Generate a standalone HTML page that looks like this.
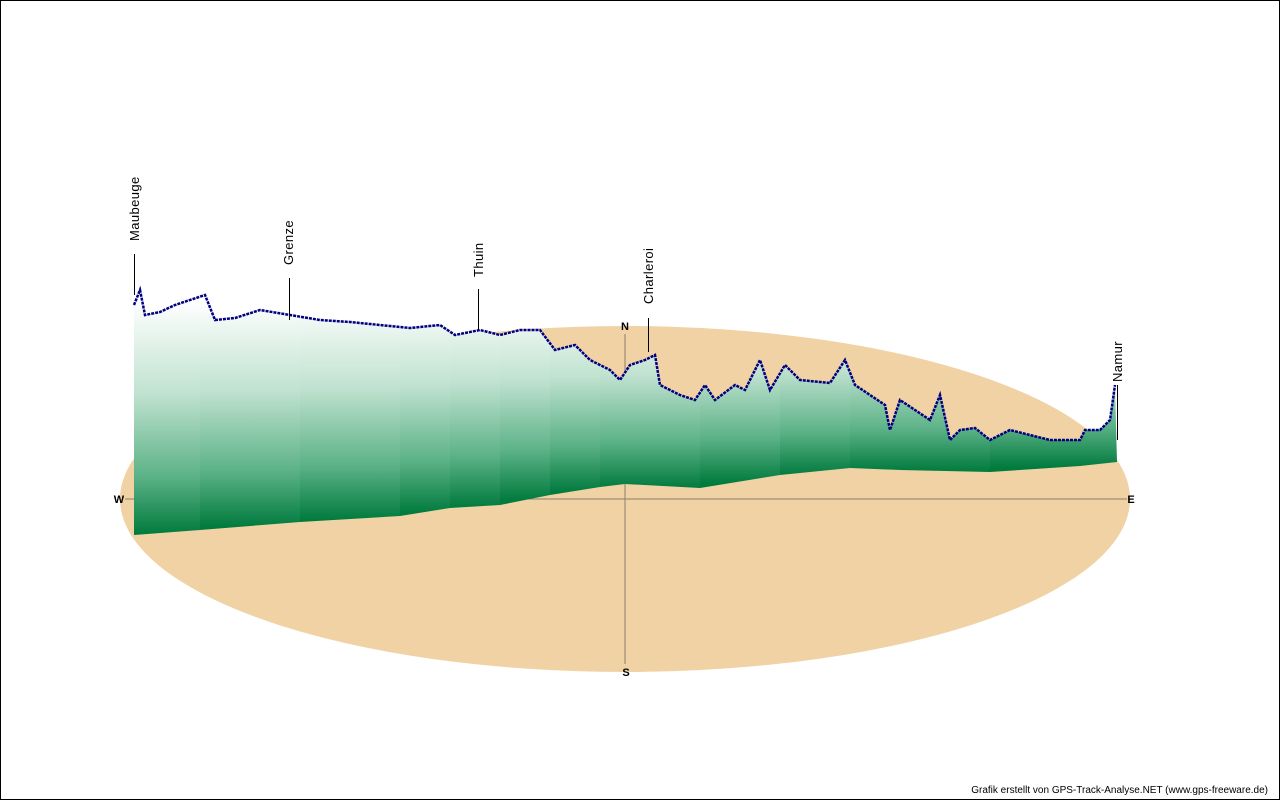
<!DOCTYPE html>
<html><head><meta charset="utf-8"><style>
html,body{margin:0;padding:0;background:#fff}
svg{display:block}
text{font-family:"Liberation Sans",sans-serif}
</style></head><body>
<svg width="1280" height="800" viewBox="0 0 1280 800">
<defs>
<clipPath id="c"><path d="M134,305 L140,290 L145,315 L160,312 L175,305 L190,300 L205,295 L215,320 L235,318 L260,310 L290,315 L320,320 L350,322 L380,325 L410,328 L440,325 L455,335 L480,330 L500,335 L520,330 L540,330 L555,350 L575,345 L590,360 L610,370 L620,380 L630,365 L645,360 L655,355 L660,385 L680,395 L695,400 L705,385 L715,400 L735,385 L745,390 L760,360 L770,390 L785,365 L800,380 L830,383 L845,360 L855,385 L870,395 L885,405 L890,430 L900,400 L915,410 L930,420 L940,395 L950,440 L960,430 L975,428 L990,440 L1010,430 L1030,435 L1050,440 L1080,440 L1085,430 L1100,430 L1110,420 L1115,385 L1117,462 L1080,466 L1050,468 L990,472 L900,470 L850,468 L780,475 L700,488 L625,484 L600,487 L550,495 L500,505 L450,508 L400,516 L300,522 L200,530 L134,535 Z"/></clipPath>
<linearGradient id="g1" gradientUnits="userSpaceOnUse" x1="0" y1="535" x2="0" y2="300"><stop offset="0" stop-color="#007a3d"/><stop offset="0.25" stop-color="#5cb287"/><stop offset="0.6" stop-color="#c0e2d0"/><stop offset="1" stop-color="#fff"/></linearGradient>
<linearGradient id="g2" href="#g1" y1="528" y2="300"/>
<linearGradient id="g3" href="#g1" y1="521" y2="300"/>
<linearGradient id="g4" href="#g1" y1="514" y2="300"/>
<linearGradient id="g5" href="#g1" y1="508" y2="300"/>
<linearGradient id="g6" href="#g1" y1="501" y2="300"/>
<linearGradient id="g7" href="#g1" y1="493" y2="300"/>
<linearGradient id="g8" href="#g1" y1="489" y2="300"/>
<linearGradient id="g9" href="#g1" y1="484" y2="300"/>
<linearGradient id="g10" href="#g1" y1="476" y2="300"/>
<linearGradient id="g11" href="#g1" y1="472" y2="300"/>
<linearGradient id="g12" href="#g1" y1="468" y2="300"/>
</defs>
<rect x="0.5" y="0.5" width="1279" height="799" fill="#fff" stroke="#000"/>
<ellipse cx="625" cy="499" rx="505" ry="173" fill="#f0d2a4"/>
<line x1="125" y1="499" x2="1127" y2="499" stroke="#8a8070" stroke-width="1"/>
<line x1="625" y1="334" x2="625" y2="664" stroke="#8a8070" stroke-width="1"/>
<g font-size="11" font-weight="bold" text-anchor="middle" fill="#000">
<text x="119" y="503">W</text><text x="1131" y="503">E</text>
<text x="625" y="330">N</text><text x="626" y="676">S</text>
</g>
<g clip-path="url(#c)">
<rect x="130" y="280" width="70" height="260" fill="url(#g1)"/>
<rect x="200" y="280" width="100" height="260" fill="url(#g2)"/>
<rect x="300" y="280" width="100" height="260" fill="url(#g3)"/>
<rect x="400" y="280" width="50" height="260" fill="url(#g4)"/>
<rect x="450" y="280" width="50" height="260" fill="url(#g5)"/>
<rect x="500" y="280" width="50" height="260" fill="url(#g6)"/>
<rect x="550" y="280" width="50" height="260" fill="url(#g7)"/>
<rect x="600" y="280" width="100" height="260" fill="url(#g8)"/>
<rect x="700" y="280" width="80" height="260" fill="url(#g9)"/>
<rect x="780" y="280" width="70" height="260" fill="url(#g10)"/>
<rect x="850" y="280" width="140" height="260" fill="url(#g11)"/>
<rect x="990" y="280" width="130" height="260" fill="url(#g12)"/>
</g>
<polyline fill="none" stroke="#000080" stroke-width="2.5" stroke-dasharray="3 1" points="134,305 140,290 145,315 160,312 175,305 190,300 205,295 215,320 235,318 260,310 290,315 320,320 350,322 380,325 410,328 440,325 455,335 480,330 500,335 520,330 540,330 555,350 575,345 590,360 610,370 620,380 630,365 645,360 655,355 660,385 680,395 695,400 705,385 715,400 735,385 745,390 760,360 770,390 785,365 800,380 830,383 845,360 855,385 870,395 885,405 890,430 900,400 915,410 930,420 940,395 950,440 960,430 975,428 990,440 1010,430 1030,435 1050,440 1080,440 1085,430 1100,430 1110,420 1115,385"/>
<g stroke="#000" stroke-width="1">
<line x1="134.5" y1="254" x2="134.5" y2="295"/>
<line x1="289.5" y1="278" x2="289.5" y2="320"/>
<line x1="478.5" y1="289" x2="478.5" y2="330"/>
<line x1="648.5" y1="318" x2="648.5" y2="352"/>
<line x1="1117.5" y1="385" x2="1117.5" y2="440"/>
</g>
<g font-size="13" fill="#000" letter-spacing="0.4">
<text transform="translate(139,241) rotate(-90)">Maubeuge</text>
<text transform="translate(293,265) rotate(-90)">Grenze</text>
<text transform="translate(483,277) rotate(-90)">Thuin</text>
<text transform="translate(653,304) rotate(-90)">Charleroi</text>
<text transform="translate(1122,382) rotate(-90)">Namur</text>
</g>
<text x="1268" y="793" font-size="10" text-anchor="end" fill="#000">Grafik erstellt von GPS-Track-Analyse.NET (www.gps-freeware.de)</text>
</svg>
</body></html>
